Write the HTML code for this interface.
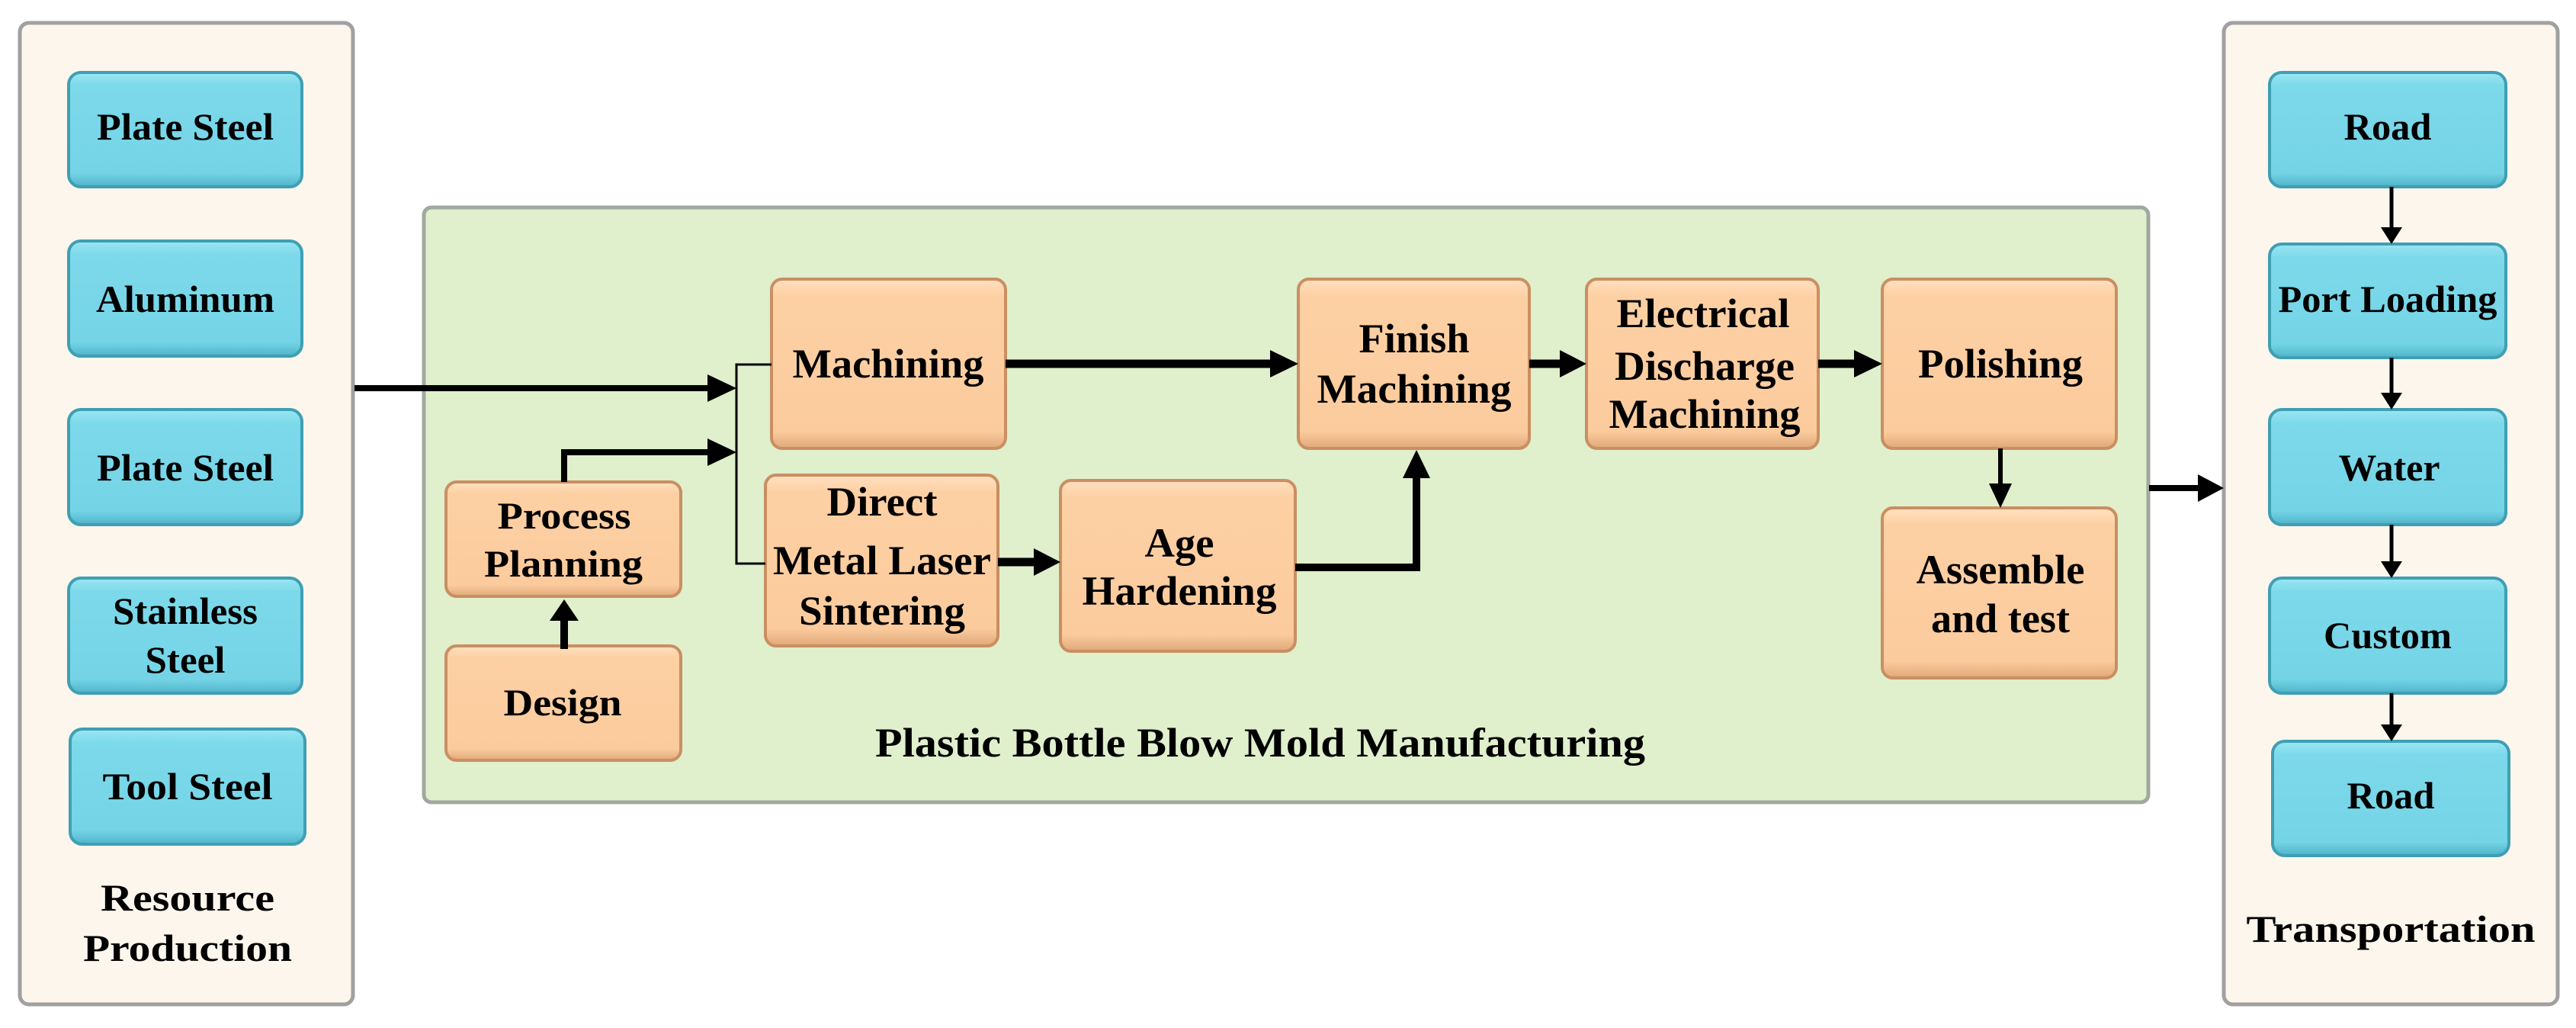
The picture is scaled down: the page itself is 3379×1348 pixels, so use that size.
<!DOCTYPE html>
<html><head><meta charset="utf-8"><style>
html,body{margin:0;padding:0;background:#fff;}
svg{display:block;}
text{font-family:"Liberation Serif",serif;font-weight:bold;fill:#000;}
</style></head><body>
<svg width="3379" height="1348" viewBox="0 0 3379 1348" xmlns="http://www.w3.org/2000/svg">
<defs>
<linearGradient id="bl" x1="0" y1="0" x2="0" y2="1"><stop offset="0" stop-color="#9be6f2"/><stop offset="0.12" stop-color="#7cd9ea"/><stop offset="0.88" stop-color="#74d4e6"/><stop offset="1" stop-color="#4fb3c8"/></linearGradient>
<linearGradient id="or" x1="0" y1="0" x2="0" y2="1"><stop offset="0" stop-color="#ffe0c0"/><stop offset="0.1" stop-color="#fdd0a4"/><stop offset="0.9" stop-color="#fbcb9d"/><stop offset="1" stop-color="#e0a878"/></linearGradient>
</defs>
<!-- panels -->
<rect x="26" y="30" width="437" height="1287" rx="12" fill="#fdf6ed" stroke="#a0a0a0" stroke-width="5"/>
<rect x="2917" y="30" width="438" height="1287" rx="12" fill="#fdf6ed" stroke="#a0a0a0" stroke-width="5"/>
<rect x="556" y="272" width="2262" height="780" rx="10" fill="#e0efcc" stroke="#a0a8a0" stroke-width="5"/>

<!-- left blue boxes -->
<g fill="url(#bl)" stroke="#3f9fb3" stroke-width="4">
<rect x="90" y="95" width="306" height="150" rx="16"/>
<rect x="90" y="316" width="306" height="151" rx="16"/>
<rect x="90" y="537" width="306" height="151" rx="16"/>
<rect x="90" y="758" width="306" height="151" rx="16"/>
<rect x="92" y="956" width="308" height="151" rx="16"/>
<rect x="2977" y="95" width="310" height="150" rx="16"/>
<rect x="2977" y="320" width="310" height="149" rx="16"/>
<rect x="2977" y="537" width="310" height="151" rx="16"/>
<rect x="2977" y="758" width="310" height="151" rx="16"/>
<rect x="2981" y="972" width="310" height="150" rx="16"/>
</g>
<!-- orange boxes -->
<g fill="url(#or)" stroke="#c98f62" stroke-width="4">
<rect x="1012" y="366" width="307" height="222" rx="14"/>
<rect x="1703" y="366" width="303" height="222" rx="14"/>
<rect x="2081" y="366" width="304" height="222" rx="14"/>
<rect x="2469" y="366" width="307" height="222" rx="14"/>
<rect x="2469" y="666" width="307" height="223" rx="14"/>
<rect x="1004" y="623" width="305" height="224" rx="14"/>
<rect x="1391" y="630" width="308" height="224" rx="14"/>
<rect x="585" y="632" width="308" height="150" rx="14"/>
<rect x="585" y="847" width="308" height="150" rx="14"/>
</g>

<!-- connectors -->
<g stroke="#000" fill="none" stroke-linejoin="miter">
<line x1="465" y1="509" x2="932" y2="509" stroke-width="8"/>
<path d="M740 632 V593 H932" stroke-width="8"/>
<path d="M1012 478 H966 V739 H1004" stroke-width="3"/>
<line x1="1319" y1="477" x2="1670" y2="477" stroke-width="11"/>
<line x1="2006" y1="477" x2="2050" y2="477" stroke-width="11"/>
<line x1="2385" y1="477" x2="2436" y2="477" stroke-width="11"/>
<line x1="1309" y1="737" x2="1360" y2="737" stroke-width="11"/>
<path d="M1699 744 H1858 V625" stroke-width="10"/>
<line x1="2624" y1="588" x2="2624" y2="636" stroke-width="6"/>
<line x1="2819" y1="640" x2="2885" y2="640" stroke-width="8"/>
<line x1="740" y1="851" x2="740" y2="812" stroke-width="10"/>
<g stroke-width="5">
<line x1="3137" y1="245" x2="3137" y2="300"/>
<line x1="3137" y1="469" x2="3137" y2="517"/>
<line x1="3137" y1="688" x2="3137" y2="738"/>
<line x1="3137" y1="909" x2="3137" y2="952"/>
</g>
</g>
<g fill="#000">
<polygon points="928,491 966,509 928,527"/>
<polygon points="928,575 966,593 928,611"/>
<polygon points="1666,459 1703,477 1666,495"/>
<polygon points="2046,459 2081,477 2046,495"/>
<polygon points="2432,459 2469,477 2432,495"/>
<polygon points="1356,719 1391,737 1356,755"/>
<polygon points="1840,627 1858,590 1876,627"/>
<polygon points="2609,634 2624,666 2639,634"/>
<polygon points="2883,622 2917,640 2883,658"/>
<polygon points="721,814 740,786 759,814"/>
<polygon points="3123,298 3137,320 3151,298"/>
<polygon points="3123,515 3137,537 3151,515"/>
<polygon points="3123,736 3137,758 3151,736"/>
<polygon points="3123,950 3137,972 3151,950"/>
</g>

<!-- text left/right (wide serif) -->
<g font-size="50" text-anchor="middle">
<text x="243" y="183" textLength="232" lengthAdjust="spacingAndGlyphs">Plate Steel</text>
<text x="243" y="409" textLength="234" lengthAdjust="spacingAndGlyphs">Aluminum</text>
<text x="243" y="630" textLength="232" lengthAdjust="spacingAndGlyphs">Plate Steel</text>
<text x="243" y="818" textLength="190" lengthAdjust="spacingAndGlyphs">Stainless</text>
<text x="243" y="882" textLength="105" lengthAdjust="spacingAndGlyphs">Steel</text>
<text x="246" y="1048" textLength="223" lengthAdjust="spacingAndGlyphs">Tool Steel</text>
<text x="246" y="1194" textLength="228" lengthAdjust="spacingAndGlyphs">Resource</text>
<text x="246" y="1260" textLength="274" lengthAdjust="spacingAndGlyphs">Production</text>
<text x="3132" y="183" textLength="115" lengthAdjust="spacingAndGlyphs">Road</text>
<text x="3132" y="409" textLength="287" lengthAdjust="spacingAndGlyphs">Port Loading</text>
<text x="3134" y="630" textLength="133" lengthAdjust="spacingAndGlyphs">Water</text>
<text x="3132" y="850" textLength="168" lengthAdjust="spacingAndGlyphs">Custom</text>
<text x="3136" y="1060" textLength="115" lengthAdjust="spacingAndGlyphs">Road</text>
<text x="3136" y="1235" textLength="379" lengthAdjust="spacingAndGlyphs">Transportation</text>
<text x="740" y="693" textLength="175" lengthAdjust="spacingAndGlyphs">Process</text>
<text x="739" y="756" textLength="208" lengthAdjust="spacingAndGlyphs">Planning</text>
<text x="738" y="938" textLength="155" lengthAdjust="spacingAndGlyphs">Design</text>
</g>
<!-- text center (condensed) -->
<g font-size="54" text-anchor="middle">
<text x="1165" y="495" textLength="251" lengthAdjust="spacingAndGlyphs">Machining</text>
<text x="1855" y="462" textLength="145" lengthAdjust="spacingAndGlyphs">Finish</text>
<text x="1855" y="528" textLength="255" lengthAdjust="spacingAndGlyphs">Machining</text>
<text x="2234" y="429" textLength="227" lengthAdjust="spacingAndGlyphs">Electrical</text>
<text x="2236" y="498" textLength="236" lengthAdjust="spacingAndGlyphs">Discharge</text>
<text x="2236" y="561" textLength="251" lengthAdjust="spacingAndGlyphs">Machining</text>
<text x="2624" y="495" textLength="216" lengthAdjust="spacingAndGlyphs">Polishing</text>
<text x="2624" y="765" textLength="221" lengthAdjust="spacingAndGlyphs">Assemble</text>
<text x="2624" y="829" textLength="182" lengthAdjust="spacingAndGlyphs">and test</text>
<text x="1157" y="676" textLength="145" lengthAdjust="spacingAndGlyphs">Direct</text>
<text x="1157" y="753" textLength="286" lengthAdjust="spacingAndGlyphs">Metal Laser</text>
<text x="1157" y="819" textLength="218" lengthAdjust="spacingAndGlyphs">Sintering</text>
<text x="1547" y="730" textLength="91" lengthAdjust="spacingAndGlyphs">Age</text>
<text x="1547" y="793" textLength="255" lengthAdjust="spacingAndGlyphs">Hardening</text>
<text x="1653" y="992" textLength="1010" lengthAdjust="spacingAndGlyphs">Plastic Bottle Blow Mold Manufacturing</text>
</g>
</svg>
</body></html>
